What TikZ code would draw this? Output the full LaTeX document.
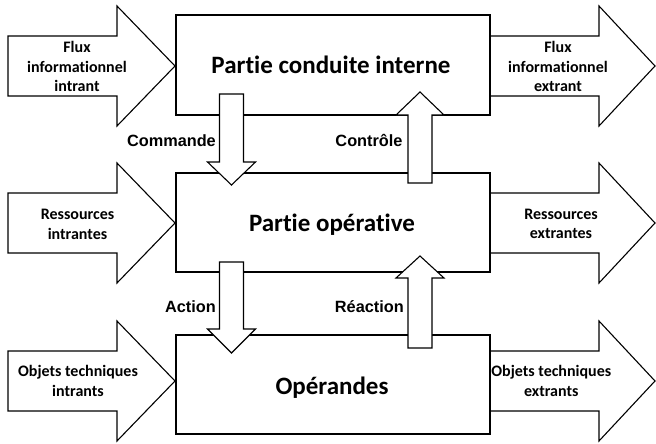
\documentclass[tikz,border=0pt]{standalone}
\usepackage{fontspec}
\setmainfont{Carlito}[Ligatures=NoCommon]
\newfontfamily\arialfont{Liberation Sans}
\newcommand\myHArrow[4]{% left x, head base x, tip x, centre y
  \draw[arr] (#1,#4-30) -- (#2,#4-30) -- (#2,#4-60) -- (#3,#4) -- (#2,#4+60) -- (#2,#4+30) -- (#1,#4+30) -- cycle;}
\newcommand\myVArrow[4]{% centre x, shaft end y, head base y, tip y
  \draw[arr] (#1-12,#2) -- (#1+12,#2) -- (#1+12,#3) -- (#1+24,#3) -- (#1,#4) -- (#1-24,#3) -- (#1-12,#3) -- cycle;}
\begin{document}
\begin{tikzpicture}[x=1pt,y=-1pt,
  box/.style={draw,line width=1.6pt,fill=white,minimum width=314pt,inner sep=0pt},
  arr/.style={draw,line width=1.1pt,fill=white,line join=miter},
  big/.style={font=\bfseries\fontsize{25}{30}\selectfont,anchor=base,inner sep=0pt},
  lbl/.style={font=\bfseries\fontsize{16}{19.5}\selectfont,align=center,inner sep=0pt},
  side/.style={font=\arialfont\bfseries\fontsize{16.3}{20}\selectfont,anchor=base east,inner sep=0pt}]
\useasboundingbox (0,0) rectangle (656,444);
% side arrows
\myHArrow{8}{117}{175}{66}
\myHArrow{8}{117}{175}{223}
\myHArrow{8}{117}{175}{381}
\myHArrow{490}{599}{655}{66}
\myHArrow{490}{599}{655}{223}
\myHArrow{490}{599}{655}{381}
% boxes
\node[box,minimum height=100pt] (pci) at (333,65) {};
\node[box,minimum height=99pt] (po) at (333,222.5) {};
\node[box,minimum height=99pt] (op) at (333,384.5) {};
\node[big] (tpci) at (331,73.3) {Partie conduite interne};
\node[big] (tpo) at (332,231.7) {Partie opérative};
\node[big] (top) at (332,394.3) {Opérandes};
% vertical arrows
\myVArrow{231.5}{94}{162}{185}
\myVArrow{231.5}{262}{329}{353}
\myVArrow{420}{183}{115}{92}
\myVArrow{420}{348}{278}{256}
% labels
\node[lbl] (l1) at (77,66.6) {Flux\\informationnel\\intrant};
\node[lbl] (l2) at (77.5,224.6) {Ressources\\intrantes};
\node[lbl] (l3) at (78,380.8) {Objets techniques\\intrants};
\node[lbl] (r1) at (558,66.6) {Flux\\informationnel\\extrant};
\node[lbl] (r2) at (561,224) {Ressources\\extrantes};
\node[lbl] (r3) at (551.3,380.8) {Objets techniques\\extrants};
\node[side] (cmd) at (216,146.7) {Commande};
\node[side] (ctl) at (402.7,146.7) {Contrôle};
\node[side] (act) at (216,312.7) {Action};
\node[side] (rea) at (404,312.7) {Réaction};
\end{tikzpicture}
\end{document}
